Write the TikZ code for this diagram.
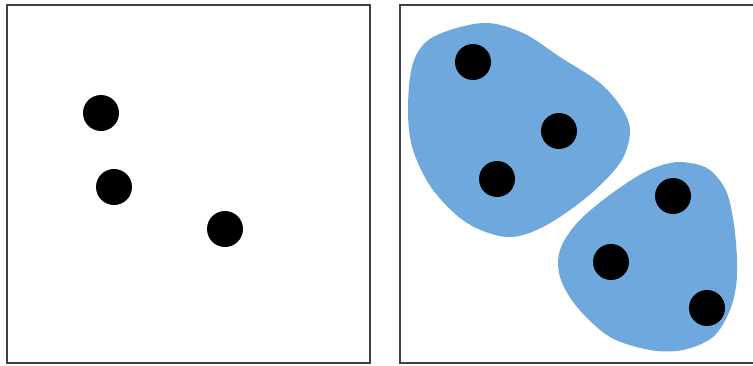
\documentclass[tikz,border=0pt]{standalone}
\usepackage{xcolor}
\usepackage{tikz}
\definecolor{blobblue}{RGB}{111,168,221}
\definecolor{framegray}{RGB}{64,64,64}

\begin{document}
\begin{tikzpicture}[x=1pt, y=-1pt,
        dot/.style={circle, fill=black, minimum size=36pt, inner sep=0pt},
        frame/.style={draw=framegray, line width=1.6pt}]
        \useasboundingbox (0,0) rectangle (753,365);

        % the two panels
        \draw[frame] (7,5) rectangle (370,363);
        \draw[frame] (400,5) rectangle (770,363);

        % clusters
        \fill[blobblue] plot[smooth cycle, tension=0.55] coordinates {
            (483,23) (523,33) (560,57) (600,83) (623,110) (630,133) (620,163)
            (587,197) (543,227) (507,237) (467,223) (433,190) (413,150)
            (408,110) (413,63) (433,37)};
        \fill[blobblue] plot[smooth cycle, tension=0.55] coordinates {
            (690,163) (710,170) (727,193) (735,233) (737,277) (730,310)
            (713,337) (683,350) (650,350) (610,337) (577,307) (560,277)
            (560,250) (577,223) (607,197) (643,173) (670,163)};

        % points, left panel
        \node[dot] (p1) at (101,113) {};
        \node[dot] (p2) at (114,187) {};
        \node[dot] (p3) at (225,229) {};

        % points, right panel
        \node[dot] (q1) at (473,62) {};
        \node[dot] (q2) at (559,131) {};
        \node[dot] (q3) at (497,179) {};
        \node[dot] (q4) at (673,196) {};
        \node[dot] (q5) at (611,262) {};
        \node[dot] (q6) at (707,308) {};
\end{tikzpicture}
\end{document}
